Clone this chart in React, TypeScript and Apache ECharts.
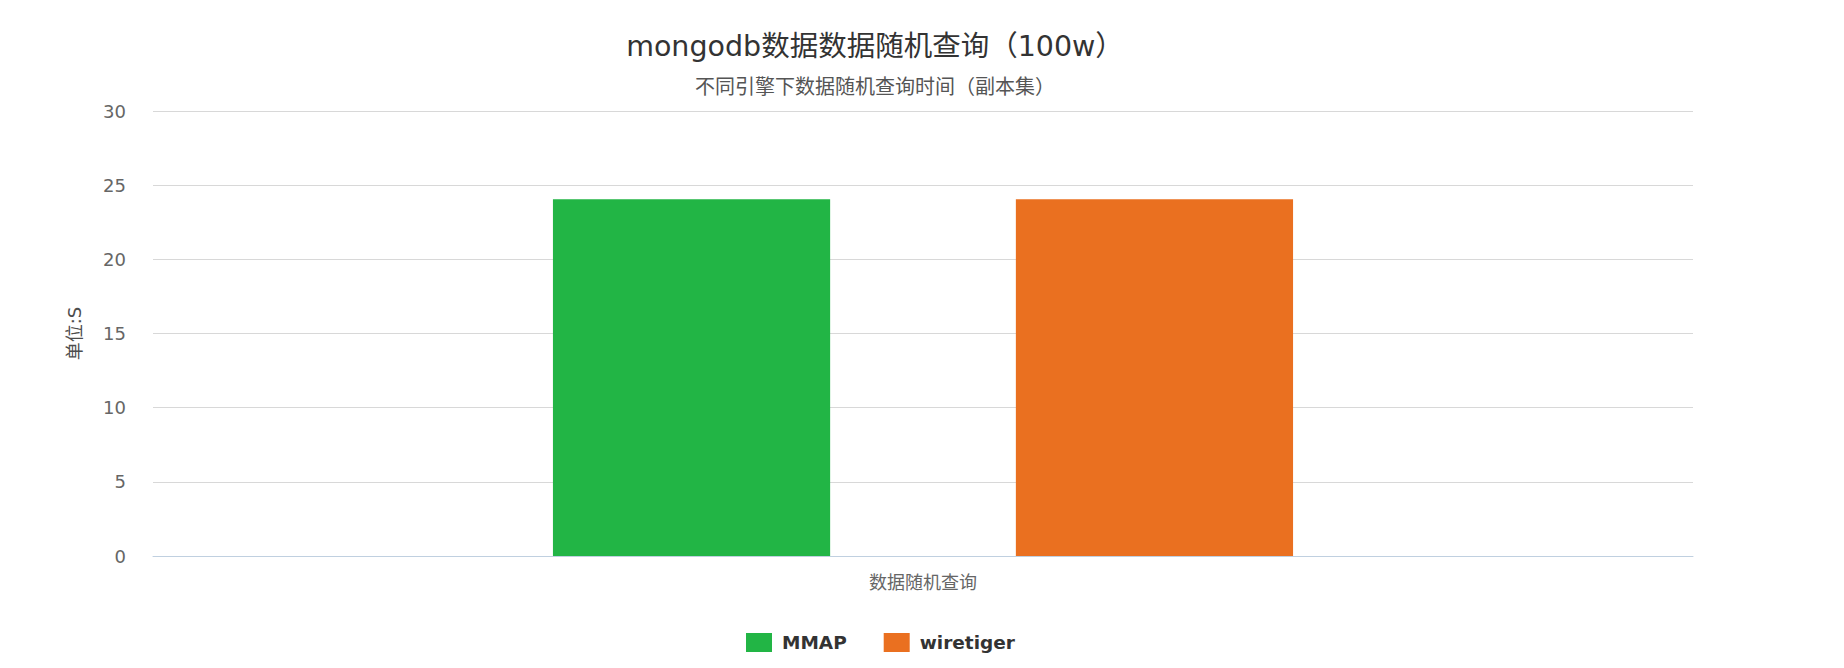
import React, { useEffect, useRef } from "react";
import * as echarts from "echarts";

const categories = ["数据随机查询"];
const seriesNames = ["MMAP", "wiretiger"];
const mmapValues = [24.05];
const wiretigerValues = [24.05];
const colors = ["#22B545", "#EA7020"];

const FONT = "'DejaVu Sans', 'Noto Sans CJK SC', sans-serif";

export default function App() {
  const ref = useRef<HTMLDivElement>(null);
  useEffect(() => {
    if (!ref.current) return;
    const chart = echarts.init(ref.current, undefined, { renderer: "svg" });
    chart.setOption({
      animation: false,
      backgroundColor: "#ffffff",
      title: {
        text: "mongodb数据数据随机查询（100w）",
        subtext: "不同引擎下数据随机查询时间（副本集）",
        left: 870,
        textAlign: "center",
        top: 27,
        itemGap: 16,
        textStyle: { fontFamily: FONT, fontSize: 28.5, fontWeight: "normal", color: "#333333" },
        subtextStyle: { fontFamily: FONT, fontSize: 20, color: "#555555" },
      },
      legend: {
        left: 741,
        top: 628,
        itemWidth: 26,
        itemHeight: 19,
        itemGap: 37,
        icon: "rect",
        textStyle: {
          fontFamily: FONT,
          fontSize: 18.5,
          fontWeight: "bold",
          color: "#333333",
          padding: [0, 0, 0, 5],
        },
        data: seriesNames,
      },
      grid: { left: 153, right: 151, top: 111, bottom: 112, containLabel: false },
      xAxis: {
        type: "category",
        data: categories,
        axisLine: { lineStyle: { color: "#C0D0E0", width: 1 } },
        axisTick: { show: false },
        axisLabel: { fontFamily: FONT, fontSize: 18, color: "#666666", margin: 17 },
      },
      yAxis: {
        type: "value",
        min: 0,
        max: 30,
        interval: 5,
        name: "单位:S",
        nameLocation: "middle",
        nameGap: 70,
        nameRotate: 90,
        nameTextStyle: { fontFamily: FONT, fontSize: 18, color: "#4d4d4d" },
        axisLine: { show: false },
        axisTick: { show: false },
        splitLine: { lineStyle: { color: "#D8D8D8", width: 1 } },
        axisLabel: { fontFamily: FONT, fontSize: 18, color: "#666666", margin: 27 },
      },
      series: [
        {
          name: seriesNames[0],
          type: "bar",
          data: mmapValues,
          barWidth: "18%",
          barGap: "67%",
          itemStyle: { color: colors[0] },
        },
        {
          name: seriesNames[1],
          type: "bar",
          data: wiretigerValues,
          barWidth: "18%",
          barGap: "67%",
          itemStyle: { color: colors[1] },
        },
      ],
    });
    return () => chart.dispose();
  }, []);
  return (
    <div
      ref={ref}
      style={{ position: "fixed", left: 0, top: 0, width: 1844, height: 668 }}
    />
  );
}
